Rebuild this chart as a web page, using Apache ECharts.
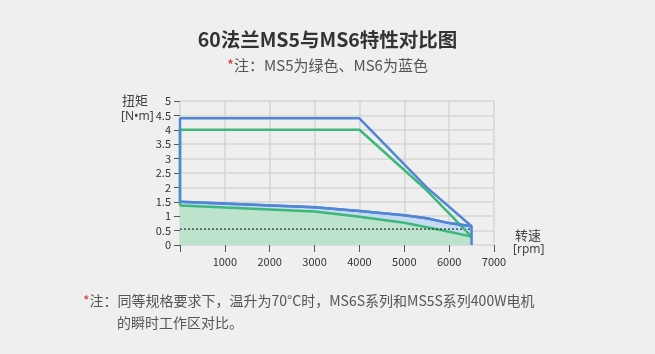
<!DOCTYPE html>
<html>
<head>
<meta charset="utf-8">
<script src="https://cdn.jsdelivr.net/npm/echarts@6/dist/echarts.min.js"></script>
<style>
html, body { margin: 0; padding: 0; background: #efefef; }
#main { width: 655px; height: 354px; }
</style>
</head>
<body>
<div id="main"></div>
<script>
// MS6 (blue) peak outline, MS6 continuous curve
var ms6Peak = [[0, 1.5], [0, 4.4], [4000, 4.4], [5500, 2.0], [6500, 0.65], [6500, 0]];
var ms6Cont = [[0, 1.5], [3000, 1.31], [4000, 1.18], [5000, 1.03], [5500, 0.93], [6000, 0.76], [6500, 0.65]];
// MS5 (green)
var ms5Peak = [[0, 1.37], [0, 4.0], [4000, 4.0], [5500, 1.9], [6500, 0.29]];
var ms5Cont = [[0, 1.37], [3000, 1.16], [4000, 0.98], [5000, 0.77], [6000, 0.46], [6500, 0.29]];
var ratedLine = [[0, 0.55], [6500, 0.55]];

var font = '"Noto Sans CJK SC", "Noto Sans", sans-serif';
var latin = '"Noto Sans", sans-serif';
var blue = '#4f86d6';
var green = '#3cb878';

var chart = echarts.init(document.getElementById('main'));
var option = {
    backgroundColor: '#efefef',
    animation: false,
    title: {
        text: '60法兰MS5与MS6特性对比图',
        subtext: '{r|*}注：MS5为绿色、MS6为蓝色',
        left: 'center',
        top: 25,
        itemGap: 8,
        textStyle: { fontFamily: font, fontSize: 19.5, fontWeight: 'bold', color: '#333' },
        subtextStyle: {
            fontFamily: font, fontSize: 15, color: '#555',
            rich: { r: { color: '#e8303a', fontSize: 15, fontFamily: font } }
        }
    },
    grid: { left: 180, right: 161, top: 101, bottom: 109 },
    xAxis: {
        type: 'value',
        min: 0, max: 7000, interval: 1000,
        axisLine: { show: false },
        axisTick: { show: true, length: 7, lineStyle: { color: '#555' } },
        axisLabel: {
            fontFamily: font, fontSize: 11, color: '#333', margin: 11,
            formatter: function (v) { return v === 0 ? '' : v; }
        },
        splitLine: { show: true, lineStyle: { color: '#d6d6d6', width: 1.5 } }
    },
    yAxis: {
        type: 'value',
        min: 0, max: 5, interval: 0.5,
        axisLine: { show: false },
        axisTick: { show: true, length: 6, lineStyle: { color: '#555' } },
        axisLabel: { fontFamily: font, fontSize: 11, color: '#333', margin: 9 },
        splitLine: { show: true, lineStyle: { color: '#d6d6d6', width: 1.5 } }
    },
    graphic: [
        { type: 'text', left: 122, top: 94, style: { text: '扭矩', font: '13px ' + font, fill: '#444' } },
        { type: 'text', left: 121, top: 111, style: { text: '[N•m]', font: '12px ' + latin, fill: '#444' } },
        { type: 'text', left: 515, top: 229, style: { text: '转速', font: '13px ' + font, fill: '#444' } },
        { type: 'text', left: 513, top: 244, style: { text: '[rpm]', font: '12px ' + latin, fill: '#444' } },
        {
            type: 'text', left: 83, top: 294,
            style: {
                text: '{r|*}注：同等规格要求下，温升为70°C时，MS6S系列和MS5S系列400W电机',
                font: '14px ' + font, fill: '#555',
                rich: { r: { fill: '#e8303a', font: '14px ' + font } }
            }
        },
        {
            type: 'text', left: 117, top: 316,
            style: { text: '的瞬时工作区对比。', font: '14px ' + font, fill: '#555' }
        }
    ],
    series: [
        {
            name: 'MS6连续', type: 'line', data: ms6Cont, symbol: 'none', z: 2,
            lineStyle: { color: blue, width: 2.5 },
            areaStyle: { color: '#c6dbf1', opacity: 1 }
        },
        {
            name: 'MS5连续', type: 'line', data: ms5Cont, symbol: 'none', z: 3,
            lineStyle: { color: green, width: 2.5 },
            areaStyle: { color: '#bde3cd', opacity: 1 }
        },
        {
            name: '额定', type: 'line', data: ratedLine, symbol: 'none', z: 4,
            lineStyle: { color: '#333', width: 1.2, type: [2, 2] }
        },
        {
            name: 'MS5瞬时', type: 'line', data: ms5Peak, symbol: 'none', z: 5,
            lineStyle: { color: green, width: 2.5 }
        },
        {
            name: 'MS6瞬时', type: 'line', data: ms6Peak, symbol: 'none', z: 6,
            lineStyle: { color: blue, width: 2.5 }
        },
        {
            name: 'MS6连续线', type: 'line', data: ms6Cont, symbol: 'none', z: 6,
            lineStyle: { color: blue, width: 2.5 }
        }
    ]
};
chart.setOption(option);
</script>
</body>
</html>
